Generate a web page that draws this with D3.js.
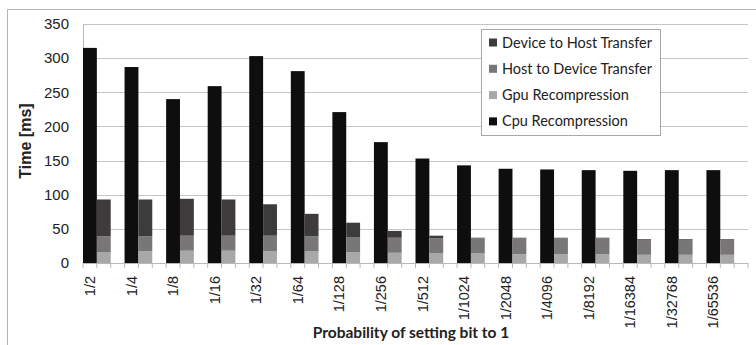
<!DOCTYPE html>
<html>
<head>
<meta charset="utf-8">
<script src="https://cdn.jsdelivr.net/npm/d3@7"></script>
<style>
  body { margin: 0; background: #fff; }
  svg { display: block; }
  .tick text { font-family: "Liberation Sans", Arial, sans-serif; fill: #222; }
</style>
</head>
<body>
<div id="chart"></div>
<script>
// data
const categories = ["1/2", "1/4", "1/8", "1/16", "1/32", "1/64", "1/128", "1/256",
  "1/512", "1/1024", "1/2048", "1/4096", "1/8192", "1/16384", "1/32768", "1/65536"];
const cpuRecompression = [315, 287, 240, 259, 303, 281, 221, 177, 153, 143, 138, 137, 136, 135, 136, 136];
const gpuRecompression = [16, 17, 18, 18, 17, 17, 16, 15, 14, 14, 13, 13, 13, 12, 12, 12];
const hostToDevice = [23, 22, 22, 22, 23, 22, 22, 22, 22, 22, 23, 23, 23, 22, 22, 22];
const deviceToHost = [54, 54, 54, 53, 46, 33, 21, 10, 4, 1, 1, 1, 1, 1, 1, 1];
const yTicks = [0, 50, 100, 150, 200, 250, 300, 350];

const seriesNames = ["Device to Host Transfer", "Host to Device Transfer", "Gpu Recompression", "Cpu Recompression"];
const colors = {
  "Device to Host Transfer": "#3d3b3b",
  "Host to Device Transfer": "#787676",
  "Gpu Recompression": "#a9a8a8",
  "Cpu Recompression": "#0e0e0e"
};

const W = 756, H = 345;
const margin = { TOP: 24, LEFT: 83, RIGHT: 8, BOTTOM: 82 };
const w = W - margin.LEFT - margin.RIGHT;
const h = H - margin.TOP - margin.BOTTOM;

const svg = d3.select("#chart").append("svg")
  .attr("width", W)
  .attr("height", H);

// outer frame
svg.append("rect")
  .attr("x", 7.5).attr("y", 9.5)
  .attr("width", 800).attr("height", 400)
  .attr("fill", "none")
  .attr("stroke", "#b4b4b4");

const g = svg.append("g")
  .attr("transform", `translate(${margin.LEFT}, ${margin.TOP})`);

// every category holds three slots: cpu bar, stacked gpu bar, empty
const x = d3.scaleBand().domain(categories).range([0, w]).padding(0);
const slot = d3.scaleBand().domain(["cpu", "gpu", "gap"]).range([0, x.bandwidth()]).padding(0);
const y = d3.scaleLinear().domain([0, 350]).range([h, 0]);

// gridlines
g.selectAll("line.grid")
  .data(yTicks.filter(d => d > 0))
  .enter().append("line")
  .attr("class", "grid")
  .attr("x1", 0).attr("x2", w)
  .attr("y1", d => Math.round(y(d)) + 0.5)
  .attr("y2", d => Math.round(y(d)) + 0.5)
  .attr("stroke", "#c6c6c6");

// y axis
const yAxis = g.append("g")
  .call(d3.axisLeft(y).tickValues(yTicks).tickSize(0).tickPadding(14));
yAxis.select(".domain").attr("stroke", "#b8b8b8");
yAxis.selectAll("text").attr("font-size", 15);

// cpu bars
g.selectAll("rect.cpu")
  .data(categories)
  .enter().append("rect")
  .attr("class", "cpu")
  .attr("x", d => x(d) + slot("cpu"))
  .attr("width", slot.bandwidth())
  .attr("y", (d, i) => y(cpuRecompression[i]))
  .attr("height", (d, i) => y(0) - y(cpuRecompression[i]))
  .attr("fill", colors["Cpu Recompression"]);

// stacked gpu bars
const stackRows = categories.map((c, i) => ({
  cat: c,
  "Gpu Recompression": gpuRecompression[i],
  "Host to Device Transfer": hostToDevice[i],
  "Device to Host Transfer": deviceToHost[i]
}));
const stack = d3.stack().keys(["Gpu Recompression", "Host to Device Transfer", "Device to Host Transfer"]);

g.selectAll("g.layer")
  .data(stack(stackRows))
  .enter().append("g")
  .attr("class", "layer")
  .attr("fill", d => colors[d.key])
  .selectAll("rect")
  .data(d => d)
  .enter().append("rect")
  .attr("x", d => x(d.data.cat) + slot("gpu"))
  .attr("width", slot.bandwidth())
  .attr("y", d => y(d[1]))
  .attr("height", d => y(d[0]) - y(d[1]));

// x axis: tick at every slot boundary
const nSlots = categories.length * 3;
const xs = d3.scaleLinear().domain([0, nSlots]).range([0, w]);
g.append("line")
  .attr("x1", 0).attr("x2", w)
  .attr("y1", h + 0.5).attr("y2", h + 0.5)
  .attr("stroke", "#b8b8b8");
g.selectAll("line.xtick")
  .data(d3.range(nSlots + 1))
  .enter().append("line")
  .attr("class", "xtick")
  .attr("x1", d => xs(d)).attr("x2", d => xs(d))
  .attr("y1", h).attr("y2", h + 5)
  .attr("stroke", "#b8b8b8");

g.selectAll("text.xlabel")
  .data(categories)
  .enter().append("text")
  .attr("class", "xlabel")
  .attr("transform", d => `translate(${x(d) + slot("cpu") + slot.bandwidth() / 2}, ${h + 13}) rotate(-90)`)
  .attr("text-anchor", "end")
  .attr("dy", "0.35em")
  .attr("font-family", "Liberation Sans, Arial, sans-serif")
  .attr("font-size", 14.5)
  .attr("fill", "#222")
  .text(d => d);

// axis titles
svg.append("text")
  .attr("transform", "translate(25, 141) rotate(-90)")
  .attr("text-anchor", "middle")
  .attr("dy", "0.35em")
  .attr("font-family", "Liberation Sans, Arial, sans-serif")
  .attr("font-weight", "bold")
  .attr("font-size", 16)
  .attr("fill", "#222")
  .text("Time [ms]");

svg.append("text")
  .attr("x", 411).attr("y", 338)
  .attr("text-anchor", "middle")
  .attr("font-family", "Lato, sans-serif")
  .attr("font-weight", "bold")
  .attr("font-size", 15.5)
  .attr("fill", "#222")
  .text("Probability of setting bit to 1");

// legend
const legend = svg.append("g").attr("transform", "translate(481, 29)");
legend.append("rect")
  .attr("x", 0.5).attr("y", 0.5)
  .attr("width", 179).attr("height", 106)
  .attr("fill", "#fff")
  .attr("stroke", "#a8a8a8");
const items = legend.selectAll("g.item")
  .data(seriesNames)
  .enter().append("g")
  .attr("class", "item")
  .attr("transform", (d, i) => `translate(0, ${13.5 + i * 26.3})`);
items.append("rect")
  .attr("x", 8).attr("y", -4)
  .attr("width", 8).attr("height", 8)
  .attr("fill", d => colors[d]);
items.append("text")
  .attr("x", 21)
  .attr("dy", "0.35em")
  .attr("font-family", "Lato, sans-serif")
  .attr("font-size", 14.5)
  .attr("fill", "#222")
  .text(d => d);
</script>
</body>
</html>
